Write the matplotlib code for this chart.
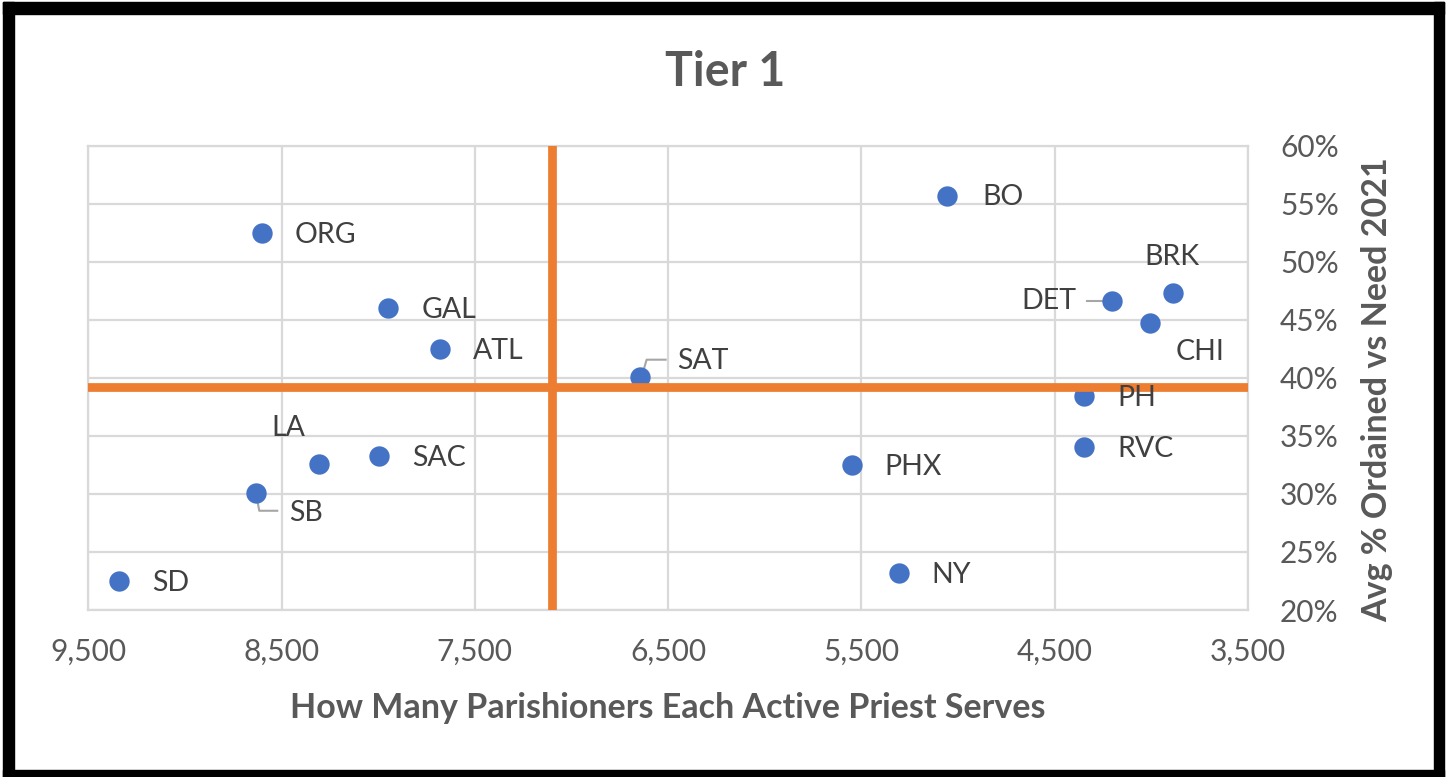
import matplotlib
matplotlib.use("Agg")
import matplotlib.pyplot as plt
from matplotlib.patches import Rectangle
from matplotlib.ticker import FuncFormatter

plt.rcParams['font.family'] = ['Lato', 'DejaVu Sans']

# ---- data ----
labels = ["SD", "SB", "LA", "SAC", "ORG", "GAL", "ATL", "SAT",
          "PHX", "NY", "BO", "DET", "BRK", "CHI", "PH", "RVC"]
parishioners = [9343, 8631, 8309, 7997, 8602, 7947, 7682, 6645,
                5551, 5308, 5055, 4202, 3886, 4005, 4347, 4347]
pct_ordained = [22.5, 30.1, 32.6, 33.3, 52.5, 46.0, 42.5, 40.1,
                32.5, 23.2, 55.7, 46.6, 47.3, 44.7, 38.4, 34.0]
avg_parishioners = 7101
avg_pct = 39.2
x_ticks = [9500, 8500, 7500, 6500, 5500, 4500, 3500]
y_ticks = [20, 25, 30, 35, 40, 45, 50, 55, 60]

title = "Tier 1"
x_title = "How Many Parishioners Each Active Priest Serves"
y_title = "Avg % Ordained vs Need 2021"

# ---- layout / style ----
W, H = 1450, 777
fig = plt.figure(figsize=(W / 100, H / 100), dpi=100)
fig.patch.set_facecolor("white")

def fx(px):
    return px / W

def fy(py):
    return 1 - py / H

ax = fig.add_axes([fx(88.3), fy(610), fx(1248) - fx(88.3), fy(145.7) - fy(610)])

blue = "#4472C4"
orange = "#ED7D31"
grid_c = "#D9D9D9"
tick_c = "#595959"
lab_c = "#404040"

ax.set_xlim(9500, 3500)
ax.set_ylim(20, 60)
ax.set_xticks(x_ticks)
ax.set_yticks(y_ticks)
ax.xaxis.set_major_formatter(FuncFormatter(lambda v, p: f"{int(v):,}"))
ax.yaxis.set_major_formatter(FuncFormatter(lambda v, p: f"{int(round(v))}%"))
ax.yaxis.tick_right()
ax.yaxis.set_label_position("right")
ax.tick_params(axis="both", length=0, labelsize=21.5, labelcolor=tick_c)
ax.tick_params(axis="x", pad=20)
ax.tick_params(axis="y", pad=23)
ax.grid(True, color=grid_c, lw=1.6, zorder=0)
ax.set_axisbelow(True)
for s in ax.spines.values():
    s.set_color(grid_c)
    s.set_linewidth(1.6)

ax.scatter(parishioners, pct_ordained, s=215, color=blue, zorder=3, linewidths=0)
ax.axvline(avg_parishioners, color=orange, lw=6.3, zorder=4)
ax.axhline(avg_pct, color=orange, lw=6.3, zorder=4)

# label offsets in pixels (dx, dy, ha)
default_off = (33, -2, "left")
label_off = {
    "LA": (-46.7, 36, "left"),
    "SB": (32.7, -20, "left"),
    "SAT": (37.5, 16, "left"),
    "DET": (-36, 0, "right"),
    "BRK": (-29, 36, "left"),
    "CHI": (25, -29, "left"),
    "BO": (35, -1, "left"),
}
leaders = {
    "SB": [(0, -2), (3, -18), (21, -18)],
    "SAT": [(1.5, 0), (6.5, 17), (25.5, 17)],
    "DET": [(-25, 0), (0, 0)],
}

for lab, xv, yv in zip(labels, parishioners, pct_ordained):
    dx, dy, ha = label_off.get(lab, default_off)
    ax.annotate(lab, (xv, yv), xytext=(dx, dy), textcoords="offset pixels",
                ha=ha, va="center", fontsize=20.5, color=lab_c, zorder=5)
    if lab in leaders:
        pts = leaders[lab]
        base = ax.transData.transform((xv, yv))
        disp = [(base[0] + p[0], base[1] + p[1]) for p in pts]
        dat = ax.transData.inverted().transform(disp)
        ax.plot(dat[:, 0], dat[:, 1], color="#A6A6A6", lw=1.5, zorder=2.5,
                clip_on=False)

fig.text(fx(725), fy(72), title, ha="center", va="center", fontsize=33.5,
         fontweight="bold", color=tick_c)
fig.text(fx(668), fy(708), x_title, ha="center", va="center", fontsize=24.5,
         fontweight="bold", color=tick_c)
fig.text(fx(1377), fy(390), y_title, ha="center", va="center", fontsize=24.5,
         fontweight="bold", color=tick_c, rotation=90)

# black frame
frame = [
    (3, 2, 1444, 14),      # top: x0, y0, x1, y1 (pixels from top-left)
    (3, 2, 14, 777),       # left
    (1434, 2, 1444, 777),  # right
    (3, 770, 1444, 777),   # bottom
]
for x0, y0, x1, y1 in frame:
    fig.add_artist(Rectangle((fx(x0), fy(y1)), fx(x1) - fx(x0), fy(y0) - fy(y1),
                             transform=fig.transFigure, color="black", zorder=10))

fig.savefig("out.png", dpi=100)
